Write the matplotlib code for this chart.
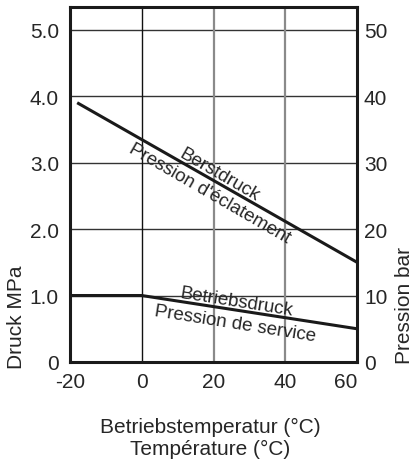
import matplotlib
matplotlib.use("Agg")
import matplotlib.pyplot as plt

plt.rcParams['font.family'] = ['Liberation Sans', 'DejaVu Sans']

# Data
burst_temp = [-18, 60]
burst_mpa = [3.9, 1.5]
service_temp = [-20, 0, 60]
service_mpa = [1.0, 1.0, 0.5]
x_ticks = [-20, 0, 20, 40, 60]
y_ticks = [0, 1, 2, 3, 4, 5]
y_ticklabels = ['0', '1.0', '2.0', '3.0', '4.0', '5.0']
y2_ticks = [0, 10, 20, 30, 40, 50]

txt = '#262626'
fig = plt.figure(figsize=(4.15, 4.6), dpi=100)
ax = fig.add_axes([70/415, 97/460, 287/415, 355/460])
ax.set_xlim(-20, 60)
ax.set_ylim(0, 5.34)

# grid
for y in y_ticks[1:]:
    ax.axhline(y, color='#333333', lw=1.0, zorder=1)
ax.axvline(0, color='#111111', lw=1.0, zorder=1)
for x in [20, 40]:
    ax.axvline(x, color='#8a8a8a', lw=1.6, zorder=1)

ax.plot(burst_temp, burst_mpa, color='#1a1a1a', lw=2.2, solid_capstyle='butt', zorder=3)
ax.plot(service_temp, service_mpa, color='#1a1a1a', lw=2.2, solid_capstyle='butt', zorder=3)

ax.set_xticks(x_ticks)
ax.set_xticklabels([str(v) for v in x_ticks])
ax.get_xticklabels()[-1].set_ha('right')
ax.set_yticks(y_ticks)
ax.set_yticklabels(y_ticklabels)
ax.tick_params(length=0, labelsize=15, labelcolor=txt)
ax.tick_params(axis='y', pad=8)
ax.tick_params(axis='x', pad=7)
for s in ax.spines.values():
    s.set_linewidth(2.2)
    s.set_color('#1a1a1a')
ax.set_ylabel('Druck MPa', fontsize=15, color=txt)
ax.yaxis.set_label_coords(-(70 - 26) / 287, (363 - 317) / 355)

ax2 = ax.twinx()
ax2.set_ylim(0, 53.4)
ax2.set_yticks(y2_ticks)
ax2.tick_params(length=0, labelsize=15, labelcolor=txt, pad=5)
for s in ax2.spines.values():
    s.set_visible(False)
ax2.set_ylabel('Pression bar', fontsize=15, color=txt)
ax2.yaxis.set_label_coords((395 - 70) / 287, (363 - 305) / 355)

fig.text(210/415, 1 - 427/460, 'Betriebstemperatur (°C)', ha='center', va='center',
         fontsize=15, color=txt)
fig.text(210/415, 1 - 449/460, 'Température (°C)', ha='center', va='center',
         fontsize=15, color=txt)

def data_at(px, py):
    inv = ax.transData.inverted()
    return inv.transform((px, 460 - py))

fig.canvas.draw()
fs = 13.5
x, y = data_at(219, 175)
ax.text(x, y, 'Berstdruck', rotation=-30, ha='center', va='center', fontsize=fs,
        color=txt, rotation_mode='anchor', zorder=4)
x, y = data_at(210, 194)
ax.text(x, y, "Pression d'éclatement", rotation=-30, ha='center', va='center', fontsize=fs,
        color=txt, rotation_mode='anchor', zorder=4)
x, y = data_at(237, 302)
ax.text(x, y, 'Betriebsdruck', rotation=-9, ha='center', va='center', fontsize=fs,
        color=txt, rotation_mode='anchor', zorder=4)
x, y = data_at(235, 324)
ax.text(x, y, 'Pression de service', rotation=-9, ha='center', va='center', fontsize=fs,
        color=txt, rotation_mode='anchor', zorder=4)

fig.savefig('out.png', dpi=100, facecolor='white')
